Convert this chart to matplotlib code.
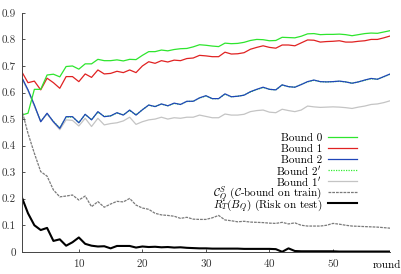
#!/usr/bin/env python3
"""Bounds vs boosting rounds (recreation)."""

import numpy as np
import matplotlib
matplotlib.use('Agg')
import matplotlib.pyplot as plt
from matplotlib.ticker import FuncFormatter

plt.rcParams['font.family'] = ['cmr10', 'DejaVu Serif']
plt.rcParams['mathtext.fontset'] = 'cm'
plt.rcParams['axes.formatter.use_mathtext'] = True

rounds = np.arange(1, 60)

bound0 = [0.515, 0.522, 0.612, 0.612, 0.666, 0.669, 0.659, 0.698, 0.700, 0.688,
          0.708, 0.708, 0.725, 0.720, 0.720, 0.723, 0.719, 0.725, 0.724, 0.740,
          0.754, 0.754, 0.760, 0.757, 0.762, 0.765, 0.766, 0.772, 0.780, 0.778,
          0.775, 0.773, 0.786, 0.784, 0.785, 0.789, 0.796, 0.800, 0.799, 0.795,
          0.796, 0.808, 0.807, 0.806, 0.812, 0.821, 0.822, 0.818, 0.819, 0.819,
          0.820, 0.818, 0.814, 0.818, 0.822, 0.824, 0.823, 0.828, 0.833]

bound1 = [0.679, 0.637, 0.643, 0.610, 0.654, 0.637, 0.616, 0.660, 0.660, 0.641,
          0.670, 0.657, 0.685, 0.670, 0.672, 0.680, 0.675, 0.685, 0.675, 0.700,
          0.716, 0.710, 0.720, 0.715, 0.722, 0.720, 0.728, 0.730, 0.740, 0.738,
          0.735, 0.735, 0.752, 0.745, 0.746, 0.750, 0.763, 0.770, 0.776, 0.770,
          0.767, 0.779, 0.779, 0.776, 0.787, 0.798, 0.797, 0.790, 0.792, 0.793,
          0.795, 0.790, 0.790, 0.793, 0.795, 0.800, 0.800, 0.806, 0.813]

bound2 = [0.658, 0.610, 0.553, 0.490, 0.522, 0.490, 0.465, 0.509, 0.509, 0.486,
          0.518, 0.497, 0.528, 0.509, 0.512, 0.524, 0.515, 0.534, 0.515, 0.535,
          0.553, 0.547, 0.557, 0.550, 0.560, 0.555, 0.567, 0.567, 0.580, 0.588,
          0.577, 0.577, 0.595, 0.584, 0.586, 0.590, 0.603, 0.612, 0.620, 0.612,
          0.610, 0.629, 0.622, 0.620, 0.630, 0.641, 0.647, 0.641, 0.640, 0.641,
          0.643, 0.640, 0.635, 0.640, 0.647, 0.653, 0.650, 0.660, 0.670]

bound2p = [0.656, 0.608, 0.551, 0.492, 0.520, 0.491, 0.467, 0.507, 0.508, 0.487,
           0.517, 0.498, 0.526, 0.510, 0.512, 0.523, 0.516, 0.532, 0.516, 0.535,
           0.552, 0.547, 0.556, 0.550, 0.559, 0.555, 0.566, 0.567, 0.579, 0.587,
           0.577, 0.577, 0.594, 0.584, 0.586, 0.590, 0.602, 0.611, 0.619, 0.612,
           0.610, 0.628, 0.622, 0.620, 0.630, 0.640, 0.646, 0.641, 0.640, 0.641,
           0.642, 0.640, 0.635, 0.640, 0.646, 0.652, 0.650, 0.659, 0.669]

bound1p = [0.655, 0.607, 0.550, 0.490, 0.520, 0.488, 0.460, 0.497, 0.495, 0.474,
           0.503, 0.472, 0.503, 0.478, 0.483, 0.486, 0.493, 0.507, 0.480, 0.490,
           0.497, 0.500, 0.507, 0.500, 0.505, 0.503, 0.507, 0.507, 0.515, 0.510,
           0.505, 0.505, 0.519, 0.515, 0.515, 0.518, 0.528, 0.532, 0.534, 0.526,
           0.524, 0.537, 0.532, 0.528, 0.534, 0.549, 0.546, 0.544, 0.545, 0.546,
           0.545, 0.543, 0.540, 0.545, 0.549, 0.555, 0.557, 0.562, 0.569]

cbound_train = [0.537, 0.446, 0.371, 0.302, 0.285, 0.233, 0.207, 0.210, 0.214, 0.195,
                0.210, 0.170, 0.189, 0.168, 0.180, 0.190, 0.188, 0.201, 0.176, 0.165,
                0.160, 0.145, 0.139, 0.137, 0.134, 0.126, 0.130, 0.123, 0.122, 0.122,
                0.128, 0.137, 0.120, 0.117, 0.113, 0.115, 0.112, 0.111, 0.110, 0.108,
                0.107, 0.111, 0.105, 0.109, 0.100, 0.097, 0.097, 0.097, 0.100, 0.107,
                0.104, 0.100, 0.097, 0.096, 0.095, 0.094, 0.093, 0.091, 0.089]

risk_test = [0.207, 0.145, 0.100, 0.082, 0.090, 0.041, 0.047, 0.023, 0.036, 0.054,
             0.030, 0.023, 0.020, 0.021, 0.013, 0.022, 0.022, 0.022, 0.016, 0.020,
             0.018, 0.019, 0.017, 0.018, 0.016, 0.017, 0.015, 0.014, 0.013, 0.013,
             0.012, 0.012, 0.012, 0.012, 0.012, 0.011, 0.011, 0.011, 0.011, 0.011,
             0.010, 0.000, 0.013, 0.003, 0.002, 0.002, 0.002, 0.002, 0.002, 0.002,
             0.001, 0.001, 0.001, 0.001, 0.001, 0.001, 0.001, 0.001, 0.001]

legend_labels = ['Bound 0', 'Bound 1', 'Bound 2', "Bound 2$'$", "Bound 1$'$",
                 r'$\mathcal{C}^S_Q$ ($\mathcal{C}$-bound on train)',
                 r'$R_T(B_Q)$ (Risk on test)']

y_ticks = [0, 0.1, 0.2, 0.3, 0.4, 0.5, 0.6, 0.7, 0.8, 0.9]
x_ticks = [10, 20, 30, 40, 50]

fig = plt.figure(figsize=(4.01, 2.74), dpi=100)
ax = fig.add_axes([0.054, 0.081, 0.919, 0.872])

styles = {
    'b0': dict(color='#2ee52e', lw=0.9),
    'b1': dict(color='#e02222', lw=0.9),
    'b2': dict(color='#1f45b8', lw=0.9),
    'b2p': dict(color='#33ee33', lw=0.9, ls=(0, (1, 1))),
    'b1p': dict(color='#c4c4c4', lw=0.9),
    'cb': dict(color='#7a7a7a', lw=0.9, ls=(0, (2.2, 0.8))),
    'rk': dict(color='black', lw=1.5),
}

ax.plot(rounds, bound2p, **styles['b2p'])
ax.plot(rounds, bound1p, **styles['b1p'])
ax.plot(rounds, bound2, **styles['b2'])
ax.plot(rounds, bound1, **styles['b1'])
ax.plot(rounds, bound0, **styles['b0'])
ax.plot(rounds, cbound_train, **styles['cb'])
ax.plot(rounds, risk_test, **styles['rk'])

# legend drawn by hand so every row has the same height
order = ['b0', 'b1', 'b2', 'b2p', 'b1p', 'cb', 'rk']
for i, (key, label) in enumerate(zip(order, legend_labels)):
    y = 0.48 - i * 0.0457
    ax.text(0.815, y, label, transform=ax.transAxes, ha='right',
            va='center_baseline', fontsize=8)
    ax.plot([0.832, 0.910], [y, y], transform=ax.transAxes, clip_on=False,
            **styles[key])

ax.set_xlim(1, 59)
ax.set_ylim(0, 0.9)
ax.set_xticks(x_ticks)
ax.set_yticks(y_ticks)
ax.yaxis.set_major_formatter(FuncFormatter(lambda v, p: '0' if v == 0 else f'{v:.1f}'))
ax.tick_params(direction='in', length=2, width=0.6, labelsize=8, pad=4, colors='#333333')
for side in ['top', 'right']:
    ax.spines[side].set_visible(False)
for side in ['left', 'bottom']:
    ax.spines[side].set_linewidth(0.7)
    ax.spines[side].set_color('#444444')

ax.set_xlabel('round', fontsize=8)
ax.xaxis.label.set_va('center')
ax.xaxis.set_label_coords(0.992, -0.056)

fig.savefig('out.png', dpi=100, facecolor='white')
